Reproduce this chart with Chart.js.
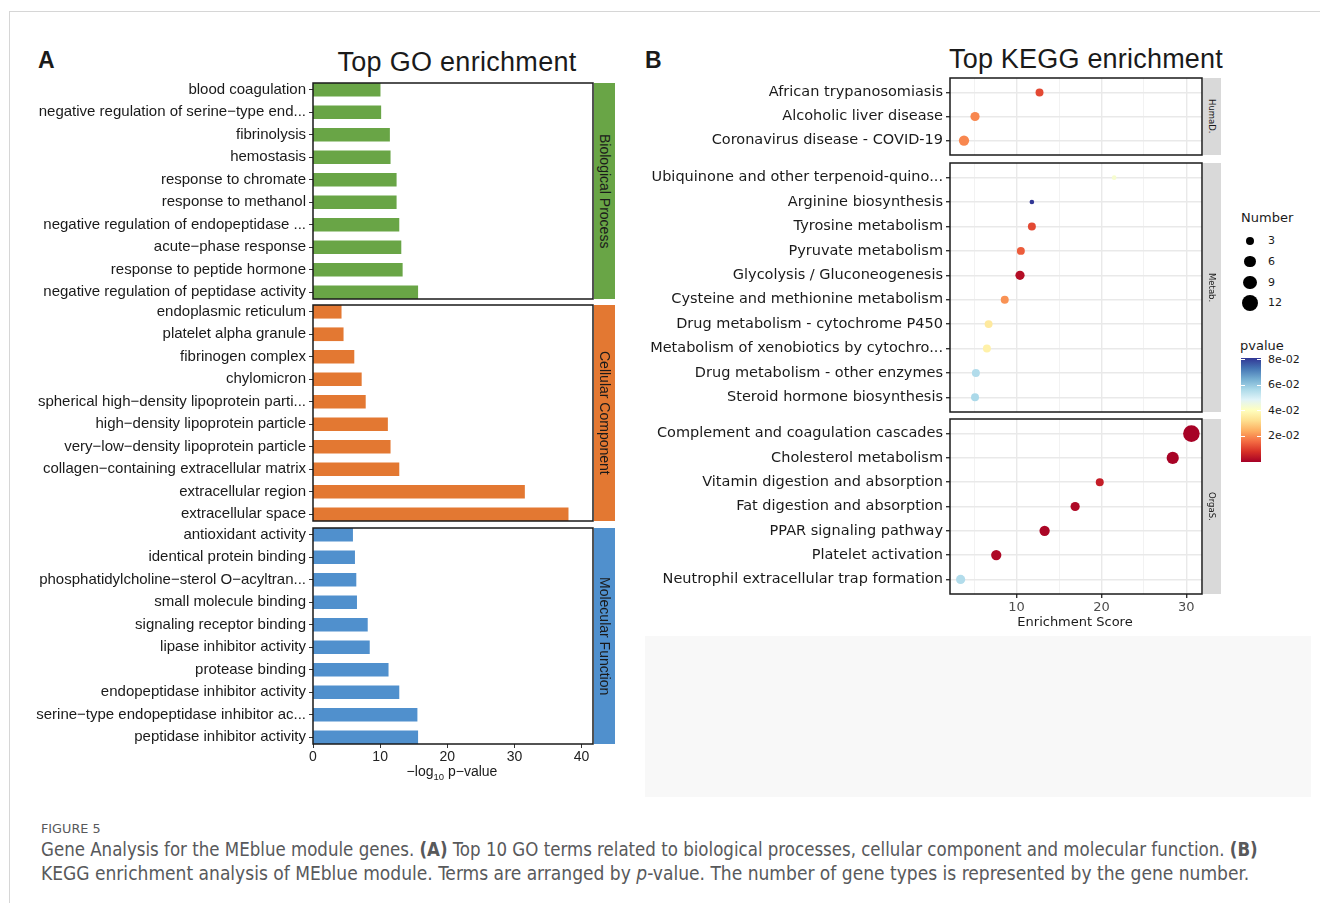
<!DOCTYPE html>
<html>
<head>
<meta charset="utf-8">
<title>Figure 5</title>
<script src="https://cdn.jsdelivr.net/npm/chart.js@4.4.1/dist/chart.umd.min.js"></script>
<style>
  body { margin: 0; width: 1320px; height: 903px; position: relative; overflow: hidden; background: #fff;
         font-family: 'Liberation Sans', Arial, sans-serif; color: #1a1a1a; }
  .abs { position: absolute; white-space: nowrap; }
  .frame-top { left: 9px; top: 11px; width: 1311px; height: 1px; background: #d6d6d6; }
  .frame-left { left: 9px; top: 11px; width: 1px; height: 892px; background: #d6d6d6; }
  .tag { font-weight: bold; font-size: 23px; line-height: 23px; }
  .title { font-size: 27px; line-height: 27px; transform: translateX(-50%); }
  .strip { display: flex; align-items: center; justify-content: center; }
  .strip span { writing-mode: vertical-rl; white-space: nowrap; }
  .go-strip { font-size: 14px; }
  .kegg-strip { background: #d9d9d9; font-family: 'DejaVu Sans', sans-serif; font-size: 8.5px; }
  .axis-title { transform: translateX(-50%); font-size: 13px; }
  .legend { font-family: 'DejaVu Sans', sans-serif; color: #1a1a1a; }
  .caption { font-family: 'Liberation Sans Narrow', 'DejaVu Sans Condensed', 'Liberation Sans', sans-serif;
             color: #58595b; transform-origin: 0 0; }
  .blank { left: 645px; top: 636px; width: 666px; height: 161px; background: #f8f8f8; }
</style>
</head>
<body>
<div class="abs frame-top"></div>
<div class="abs frame-left"></div>

<div class="abs tag" style="left:38px; top:49px;">A</div>
<div class="abs tag" style="left:645px; top:49px;">B</div>
<div class="abs title" style="left:457px; top:49px; letter-spacing:0.3px;">Top GO enrichment</div>
<div class="abs title" style="left:1086px; top:46px; letter-spacing:0.2px;">Top KEGG enrichment</div>

<!-- panel A facets -->
<div class="abs" style="left:13px; top:81px;"><canvas id="goBp" width="582" height="220"></canvas></div>
<div class="abs" style="left:13px; top:303px;"><canvas id="goCc" width="582" height="220"></canvas></div>
<div class="abs" style="left:13px; top:526px;"><canvas id="goMf" width="582" height="244"></canvas></div>
<div class="abs strip go-strip" style="left:594px; top:83px; width:21px; height:216px; background:#69a546;"><span>Biological Process</span></div>
<div class="abs strip go-strip" style="left:594px; top:305px; width:21px; height:216px; background:#e37832;"><span>Cellular Component</span></div>
<div class="abs strip go-strip" style="left:594px; top:528px; width:21px; height:216px; background:#5090cd;"><span>Molecular Function</span></div>
<div class="abs axis-title" style="left:452px; top:763px; font-size:14px;">&minus;log<sub style="font-size:9.5px;">10</sub> p&minus;value</div>

<!-- panel B facets -->
<div class="abs" style="left:650px; top:76px;"><canvas id="keggHuma" width="554" height="81"></canvas></div>
<div class="abs" style="left:650px; top:161px;"><canvas id="keggMetab" width="554" height="253"></canvas></div>
<div class="abs" style="left:650px; top:417px;"><canvas id="keggOrga" width="554" height="199"></canvas></div>
<div class="abs strip kegg-strip" style="left:1203px; top:78px; width:18px; height:77px;"><span>HumaD.</span></div>
<div class="abs strip kegg-strip" style="left:1203px; top:163px; width:18px; height:249px;"><span>Metab.</span></div>
<div class="abs strip kegg-strip" style="left:1203px; top:419px; width:18px; height:175px;"><span>OrgaS.</span></div>
<div class="abs axis-title" style="left:1075px; top:614px; font-family:'DejaVu Sans',sans-serif;">Enrichment Score</div>

<div id="legend" class="abs legend" style="left:0; top:0;"></div>

<div class="abs blank"></div>

<div class="abs caption" data-fit="59" style="left:41px; top:821px; font-size:13px; line-height:16px;">FIGURE 5</div>
<div class="abs caption" data-fit="1217" style="left:41px; top:838px; font-size:19px; line-height:22px;">Gene Analysis for the MEblue module genes. <b>(A)</b> Top 10 GO terms related to biological processes, cellular component and molecular function. <b>(B)</b></div>
<div class="abs caption" data-fit="1208" style="left:41px; top:862px; font-size:19px; line-height:22px;">KEGG enrichment analysis of MEblue module. Terms are arranged by <i>p</i>-value. The number of gene types is represented by the gene number.</div>

<script>
// GO terms (top to bottom in each facet) and their -log10 p-values
const goBpTerms = ['blood coagulation', 'negative regulation of serine\u2212type end...', 'fibrinolysis', 'hemostasis',
    'response to chromate', 'response to methanol', 'negative regulation of endopeptidase ...',
    'acute\u2212phase response', 'response to peptide hormone', 'negative regulation of peptidase activity'];
const goBpScores = [10.0, 10.1, 11.4, 11.5, 12.4, 12.4, 12.8, 13.1, 13.3, 15.6];

const goCcTerms = ['endoplasmic reticulum', 'platelet alpha granule', 'fibrinogen complex', 'chylomicron',
    'spherical high\u2212density lipoprotein parti...', 'high\u2212density lipoprotein particle',
    'very\u2212low\u2212density lipoprotein particle', 'collagen\u2212containing extracellular matrix',
    'extracellular region', 'extracellular space'];
const goCcScores = [4.2, 4.5, 6.1, 7.2, 7.8, 11.1, 11.5, 12.8, 31.5, 38.0];

const goMfTerms = ['antioxidant activity', 'identical protein binding', 'phosphatidylcholine\u2212sterol O\u2212acyltran...',
    'small molecule binding', 'signaling receptor binding', 'lipase inhibitor activity', 'protease binding',
    'endopeptidase inhibitor activity', 'serine\u2212type endopeptidase inhibitor ac...', 'peptidase inhibitor activity'];
const goMfScores = [5.9, 6.2, 6.4, 6.5, 8.1, 8.4, 11.2, 12.8, 15.5, 15.6];

const goTicks = [0, 10, 20, 30, 40];

// KEGG pathways: enrichment score, gene number, p-value
const keggHumaTerms = ['African trypanosomiasis', 'Alcoholic liver disease', 'Coronavirus disease - COVID-19'];
const keggHumaScores = [12.7, 5.1, 3.8];
const keggHumaCounts = [3, 4, 5];
const keggHumaP = [0.0115, 0.0195, 0.0195];

const keggMetabTerms = ['Ubiquinone and other terpenoid-quino...', 'Arginine biosynthesis', 'Tyrosine metabolism',
    'Pyruvate metabolism', 'Glycolysis / Gluconeogenesis', 'Cysteine and methionine metabolism',
    'Drug metabolism - cytochrome P450', 'Metabolism of xenobiotics by cytochro...',
    'Drug metabolism - other enzymes', 'Steroid hormone biosynthesis'];
const keggMetabScores = [21.5, 11.8, 11.8, 10.5, 10.4, 8.6, 6.7, 6.5, 5.2, 5.1];
const keggMetabCounts = [1, 1, 3, 3, 4, 3, 3, 3, 3, 3];
const keggMetabP = [0.043, 0.0815, 0.0115, 0.014, 0.0024, 0.021, 0.035, 0.037, 0.056, 0.057];

const keggOrgaTerms = ['Complement and coagulation cascades', 'Cholesterol metabolism', 'Vitamin digestion and absorption',
    'Fat digestion and absorption', 'PPAR signaling pathway', 'Platelet activation',
    'Neutrophil extracellular trap formation'];
const keggOrgaScores = [30.6, 28.4, 19.8, 16.9, 13.3, 7.6, 3.4];
const keggOrgaCounts = [13, 7, 3, 4, 5, 5, 4];
const keggOrgaP = [0.0004, 0.0005, 0.005, 0.0015, 0.001, 0.0015, 0.056];

const keggTicks = [5, 10, 15, 20, 25, 30];

// legend breaks
const numberBreaks = [3, 6, 9, 12];
const pvalueBreaks = [0.08, 0.06, 0.04, 0.02];
const pvalueLabels = ['8e-02', '6e-02', '4e-02', '2e-02'];

// RdYlBu, low p (red) -> high p (blue)
const rdylbu = ['#a50026', '#d73027', '#f46d43', '#fdae61', '#fee090', '#ffffbf',
    '#e0f3f8', '#abd9e9', '#74add1', '#4575b4', '#313695'];
const P_MIN = 0, P_MAX = 0.0815;

function hexToRgb(h) {
    const n = parseInt(h.slice(1), 16);
    return [n >> 16, (n >> 8) & 255, n & 255];
}

function pColor(p) {
    const t = Math.min(1, Math.max(0, (p - P_MIN) / (P_MAX - P_MIN))) * (rdylbu.length - 1);
    const i = Math.min(Math.floor(t), rdylbu.length - 2);
    const f = t - i;
    const a = hexToRgb(rdylbu[i]), b = hexToRgb(rdylbu[i + 1]);
    return `rgb(${a.map((v, k) => Math.round(v + (b[k] - v) * f)).join(',')})`;
}

const dotRadius = n => 2.3 * Math.sqrt(n);

// black frame round every facet
const panelBox = {
    id: 'panelBox',
    afterDraw(chart) {
        const { ctx, chartArea: a } = chart;
        ctx.save();
        ctx.strokeStyle = '#1a1a1a';
        ctx.lineWidth = 1.5;
        ctx.strokeRect(a.left, a.top, a.right - a.left, a.bottom - a.top);
        ctx.restore();
    }
};

const AXIS_W = 300;
const PAD = { top: 2, right: 2, bottom: 2, left: 0 };

// no extra room for edge labels, the facet box is fixed by the canvas
function noEdgePadding(s) {
    s.paddingTop = 0; s.paddingBottom = 0; s.paddingLeft = 0; s.paddingRight = 0;
}

function goFacet(id, terms, scores, color, showX) {
    new Chart(document.getElementById(id), {
        type: 'bar',
        data: {
            datasets: [{
                data: scores.map((v, i) => ({ x: v, y: i })),
                backgroundColor: color,
                barThickness: 13
            }]
        },
        options: {
            indexAxis: 'y',
            responsive: false,
            animation: false,
            devicePixelRatio: 1,
            layout: { padding: PAD, autoPadding: false },
            plugins: { legend: { display: false }, tooltip: { enabled: false } },
            scales: {
                x: {
                    type: 'linear', min: 0, max: 41.7,
                    display: showX,
                    afterBuildTicks: s => { s.ticks = goTicks.map(v => ({ value: v })); },
                    grid: { drawOnChartArea: false, tickLength: 4, tickColor: '#333' },
                    border: { display: false },
                    ticks: { padding: 1, color: '#222', font: { family: 'Liberation Sans', size: 14 }, maxRotation: 0 },
                    afterFit: s => { s.height = showX ? 24 : 0; noEdgePadding(s); }
                },
                y: {
                    type: 'linear', reverse: true, offset: false,
                    min: -0.3, max: terms.length - 0.7,
                    afterBuildTicks: s => { s.ticks = terms.map((_, i) => ({ value: i })); },
                    grid: { drawOnChartArea: false, offset: false, tickLength: 4, tickColor: '#333' },
                    border: { display: false },
                    ticks: {
                        autoSkip: false, padding: 3, color: '#1a1a1a',
                        font: { family: 'Liberation Sans', size: 15 },
                        callback: v => terms[v]
                    },
                    afterFit: s => { s.width = AXIS_W; noEdgePadding(s); }
                }
            }
        },
        plugins: [panelBox]
    });
}

function keggFacet(id, terms, scores, counts, pvals, showX) {
    new Chart(document.getElementById(id), {
        type: 'scatter',
        data: {
            datasets: [{
                data: scores.map((v, i) => ({ x: v, y: i })),
                pointRadius: counts.map(dotRadius),
                pointBackgroundColor: pvals.map(pColor),
                pointBorderWidth: 0
            }]
        },
        options: {
            responsive: false,
            animation: false,
            devicePixelRatio: 1,
            layout: { padding: PAD, autoPadding: false },
            plugins: { legend: { display: false }, tooltip: { enabled: false } },
            scales: {
                x: {
                    type: 'linear', min: 2.15, max: 31.85,
                    afterBuildTicks: s => { s.ticks = keggTicks.map(v => ({ value: v })); },
                    grid: {
                        color: c => c.tick.value % 10 === 0 ? '#e9e9e9' : '#f1f1f1',
                        lineWidth: c => c.tick.value % 10 === 0 ? 1.4 : 0.9,
                        drawTicks: showX, tickLength: 4,
                        tickColor: c => c.tick.value % 10 === 0 ? '#333' : 'rgba(0,0,0,0)'
                    },
                    border: { display: false },
                    ticks: {
                        display: showX, padding: 2, color: '#4d4d4d', maxRotation: 0, autoSkip: false,
                        font: { family: 'DejaVu Sans', size: 13 },
                        callback: v => v % 10 === 0 ? v : ''
                    },
                    afterFit: s => { s.height = showX ? 20 : 0; noEdgePadding(s); }
                },
                y: {
                    type: 'linear', reverse: true, min: -0.6, max: terms.length - 0.4,
                    afterBuildTicks: s => { s.ticks = terms.map((_, i) => ({ value: i })); },
                    grid: { color: '#e9e9e9', lineWidth: 1.4, tickLength: 4, tickColor: '#333' },
                    border: { display: false },
                    ticks: {
                        autoSkip: false, padding: 3, color: '#1a1a1a',
                        font: { family: 'DejaVu Sans', size: 14.5 },
                        callback: v => terms[v]
                    },
                    afterFit: s => { s.width = AXIS_W; noEdgePadding(s); }
                }
            }
        },
        plugins: [panelBox]
    });
}

goFacet('goBp', goBpTerms, goBpScores, '#69a546', false);
goFacet('goCc', goCcTerms, goCcScores, '#e37832', false);
goFacet('goMf', goMfTerms, goMfScores, '#5090cd', true);

keggFacet('keggHuma', keggHumaTerms, keggHumaScores, keggHumaCounts, keggHumaP, false);
keggFacet('keggMetab', keggMetabTerms, keggMetabScores, keggMetabCounts, keggMetabP, false);
keggFacet('keggOrga', keggOrgaTerms, keggOrgaScores, keggOrgaCounts, keggOrgaP, true);

// Legends for panel B
const legend = document.getElementById('legend');
let html = '<div class="abs" style="left:1241px; top:210px; font-size:13px; line-height:16px;">Number</div>';
numberBreaks.forEach((n, i) => {
    const r = dotRadius(n), cy = 240.7 + i * 20.9;
    html += `<div class="abs" style="left:${1250 - r}px; top:${cy - r}px; width:${2 * r}px; height:${2 * r}px; border-radius:50%; background:#000;"></div>`;
    html += `<div class="abs" style="left:1268px; top:${cy - 7}px; font-size:11px; line-height:14px;">${n}</div>`;
});
html += '<div class="abs" style="left:1240px; top:338px; font-size:13px; line-height:16px;">pvalue</div>';
const barTop = 358, barH = 104;
const stops = rdylbu.map((c, i) => `${c} ${(i / (rdylbu.length - 1) * 100).toFixed(1)}%`).join(',');
html += `<div class="abs" style="left:1241px; top:${barTop}px; width:20px; height:${barH}px; background:linear-gradient(to top, ${stops});"></div>`;
pvalueBreaks.forEach((p, i) => {
    const y = barTop + barH - (p - P_MIN) / (P_MAX - P_MIN) * barH;
    html += `<div class="abs" style="left:1241px; top:${y - 0.5}px; width:4px; height:1px; background:#fff;"></div>`;
    html += `<div class="abs" style="left:1257px; top:${y - 0.5}px; width:4px; height:1px; background:#fff;"></div>`;
    html += `<div class="abs" style="left:1268px; top:${y - 7}px; font-size:11px; line-height:14px;">${pvalueLabels[i]}</div>`;
});
legend.innerHTML = html;

// squeeze caption lines to the printed widths
document.querySelectorAll('[data-fit]').forEach(el => {
    el.style.transform = `scaleX(${(+el.dataset.fit / el.offsetWidth).toFixed(4)})`;
});
</script>
</body>
</html>
